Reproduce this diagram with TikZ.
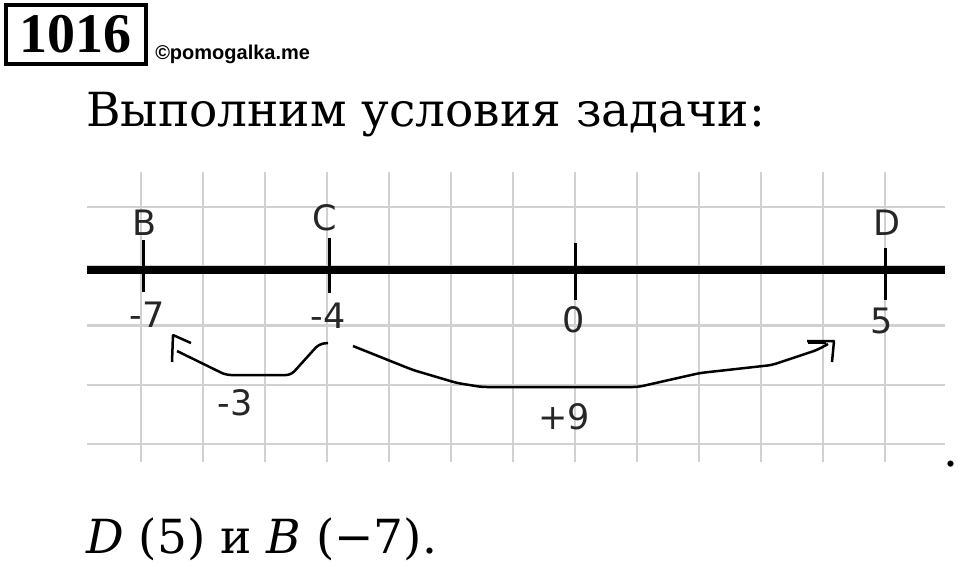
\documentclass[tikz,border=0pt]{standalone}
\usepackage{fontspec}
\setmainfont{DejaVu Serif}
\newfontfamily\labelfont{DejaVu Sans}
\newfontfamily\sitefont{Liberation Sans}
\newfontfamily\taskfont{Liberation Serif}
\usetikzlibrary{calc}

\tikzset{
  gridline/.style = {line width=2.5pt, draw=black!18},
  tick/.style = {line width=3pt},
  lbl/.style = {inner sep=0pt, text=black!85, font=\labelfont\fontsize{35}{40}\selectfont},
  hop/.style = {line width=2.5pt, line join=round, rounded corners=5pt},
  big/.style = {inner sep=0pt, font=\fontsize{47}{54}\selectfont}
}

\begin{document}
\begin{tikzpicture}[x=1pt,y=-1pt]
    \fill[white] (0,0) rectangle (960,566);
    \useasboundingbox (0,0) rectangle (960,566);

    \node[
    draw,
    line width = 4.5pt,
    minimum width = 140pt,
    minimum height = 59pt,
    inner sep = 0pt,
    font = \taskfont\bfseries\fontsize{56}{60}\selectfont
    ] (task) at (75.8,34.5){1016};
    \node[
    anchor = base west,
    inner sep = 0pt,
    font = \sitefont\bfseries\fontsize{20}{24}\selectfont
    ] (site) at ($(task.east) + (7,25)$){©pomogalka.me};
    \node[big, anchor = base west] (title) at (86,126){Выполним условия задачи:};

    \foreach \k in {0,...,12}
      \draw[gridline] (141+62*\k,172) -- (141+62*\k,462);
    \foreach \k in {0,...,4}
      \draw[gridline] (87,207+59.25*\k) -- (945,207+59.25*\k);

    \coordinate (left) at (87,270);
    \coordinate (right) at (945,270);
    \draw[line width = 8pt] (left) -- (right);

    \coordinate (b) at (143,270);
    \coordinate (c) at (329,270);
    \coordinate (o) at (575,270);
    \coordinate (d) at (885,270);
    \draw[tick] ($(b) + (0,-30)$) -- ($(b) + (0,22)$);
    \draw[tick] ($(c) + (0,-32)$) -- ($(c) + (0,23)$);
    \draw[tick] ($(o) + (0,-27)$) -- ($(o) + (0,30)$);
    \draw[tick] ($(d) + (0,-22)$) -- ($(d) + (0,30)$);

    \node[lbl] (pb) at ($(b) + (2,-47)$){B};
    \node[lbl] (pc) at ($(c) + (-4,-52)$){C};
    \node[lbl] (pd) at ($(d) + (2,-47)$){D};
    \node[lbl] (nb) at ($(b) + (4,45)$){-7};
    \node[lbl] (nc) at ($(c) + (-1,46)$){-4};
    \node[lbl] (no) at ($(o) + (-1,50)$){0};
    \node[lbl] (nd) at ($(d) + (-3,51)$){5};

    \coordinate (s1) at (328,343);
    \coordinate (e1) at (177,351);
    \coordinate (h1) at (173,335);
    \draw[hop] (s1) -- ++(-9,1) -- ++(-28,31) -- ++(-65,0) -- (e1);
    \draw[hop, rounded corners = 0.5pt] ($(h1) + (-1,27)$) -- (h1) -- ++(18,8);
    \node[lbl] (step1) at (235,403){-3};

    \coordinate (s2) at (353,346);
    \coordinate (e2) at (828,344);
    \coordinate (h2) at (834,341);
    \draw[hop] (s2) -- (413,370) -- (457,383) -- (482,387) -- (638,387)
      -- (700,373) -- (772,365) -- (817,350) -- (e2);
    \draw[hop, rounded corners = 0.5pt] ($(h2) + (-27,0)$) -- (h2) -- ++(-2,21);
    \draw[line width = 3pt] ($(h2) + (-26,1.5)$) -- ($(h2) + (-8,1.5)$);
    \node[lbl] (step2) at (564,417){+9};

    \node[big, anchor = base] (stop) at (951,466){.};
    \node[big, anchor = base west] (answer) at (86,553){\textit{D} (5) и \textit{B} (−7).};
  \end{tikzpicture}
\end{document}
